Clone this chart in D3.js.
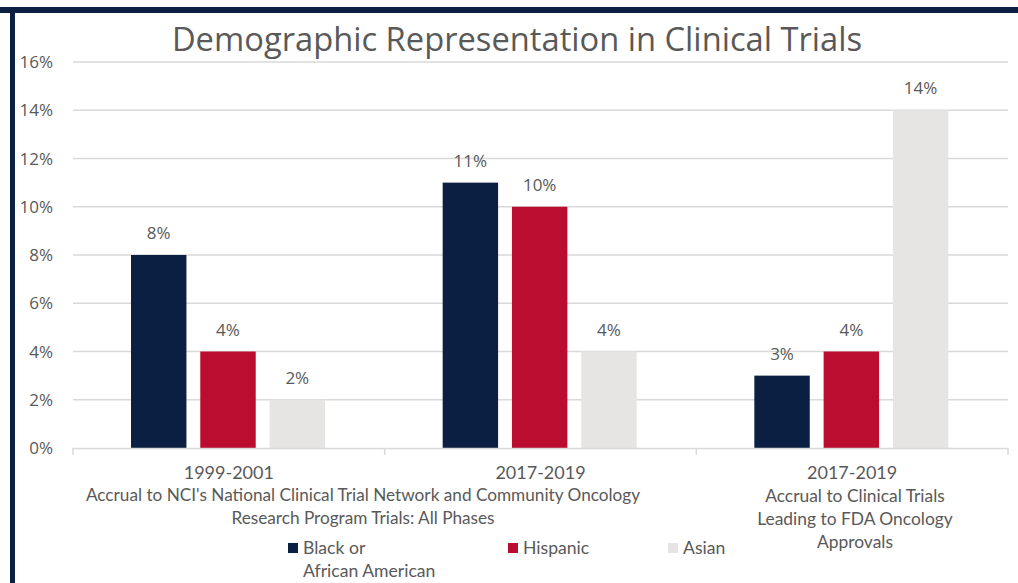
<!DOCTYPE html>
<html>
<head>
<meta charset="utf-8">
<script src="https://cdn.jsdelivr.net/npm/d3@7"></script>
<style>
  body { margin: 0; background: #fff; }
  svg { display: block; }
</style>
</head>
<body>
<div id="graph"></div>
<script>
//Page size.
let w = 1018
let h = 583

//Chart data.
let groups = ["g1", "g2", "g3"]
let years = ["1999-2001", "2017-2019", "2017-2019"]
let series = ["Black or African American", "Hispanic", "Asian"]
let blackVals = [8, 11, 3]
let hispanicVals = [4, 10, 4]
let asianVals = [2, 4, 14]
let yTicks = [0, 2, 4, 6, 8, 10, 12, 14, 16]

//Colors per series.
let colors = ["#0b1f42", "#bb0d2f", "#e6e5e4"]
let navy = "#0b1f42"
let textGrey = "#595959"
let gridGrey = "#d9d9d9"

//Plot area.
let plot = { left: 73, right: 1008, top: 62, bottom: 448 }

const svg = d3.select("#graph")
              .append("svg")
              .attr("width", w)
              .attr("height", h)

//Frame bars on top and left.
svg.append("rect").attr("x", 0).attr("y", 7).attr("width", w).attr("height", 6).attr("fill", navy)
svg.append("rect").attr("x", 10).attr("y", 7).attr("width", 5).attr("height", h - 7).attr("fill", navy)

let x = d3.scaleBand()
          .domain(groups)
          .range([plot.left, plot.right])

let xInner = d3.scaleBand()
               .domain(d3.range(series.length))
               .range([58, 252])
               .paddingInner(0.2)

let y = d3.scaleLinear()
          .domain([0, 16])
          .range([plot.bottom, plot.top])

//Gridlines.
svg.append("g")
   .selectAll("line")
   .data(yTicks.slice(1))
   .enter()
   .append("line")
   .attr("x1", plot.left)
   .attr("x2", plot.right)
   .attr("y1", d => y(d))
   .attr("y2", d => y(d))
   .attr("stroke", gridGrey)
   .attr("stroke-width", 1.5)

//Y axis labels.
svg.append("g")
   .selectAll("text")
   .data(yTicks)
   .enter()
   .append("text")
   .attr("x", 53)
   .attr("y", d => y(d) + 6)
   .attr("text-anchor", "end")
   .attr("font-family", "Open Sans")
   .attr("font-size", 17)
   .attr("fill", textGrey)
   .text(d => d + "%")

//Bars, one group per period.
let rows = groups.map((g, i) => [blackVals[i], hispanicVals[i], asianVals[i]])

let gBars = svg.append("g")
               .selectAll("g")
               .data(rows)
               .enter()
               .append("g")
               .attr("transform", (d, i) => "translate(" + x(groups[i]) + ",0)")

gBars.selectAll("rect")
     .data(d => d)
     .enter()
     .append("rect")
     .attr("x", (d, j) => xInner(j))
     .attr("width", xInner.bandwidth())
     .attr("y", d => y(d))
     .attr("height", d => y(0) - y(d))
     .attr("fill", (d, j) => colors[j])

gBars.selectAll("text")
     .data(d => d)
     .enter()
     .append("text")
     .attr("x", (d, j) => xInner(j) + xInner.bandwidth() / 2)
     .attr("y", d => y(d) - 16)
     .attr("text-anchor", "middle")
     .attr("font-family", "Open Sans")
     .attr("font-size", 17)
     .attr("fill", textGrey)
     .text(d => d + "%")

//Baseline with tick marks at band edges.
svg.append("line")
   .attr("x1", plot.left).attr("x2", plot.right)
   .attr("y1", plot.bottom + 0.5).attr("y2", plot.bottom + 0.5)
   .attr("stroke", gridGrey).attr("stroke-width", 1.5)
let edges = groups.map(g => x(g)).concat([plot.right])
svg.append("g")
   .selectAll("line")
   .data(edges)
   .enter()
   .append("line")
   .attr("x1", d => d).attr("x2", d => d)
   .attr("y1", plot.bottom).attr("y2", plot.bottom + 7)
   .attr("stroke", gridGrey).attr("stroke-width", 1.5)

//Category labels.
let labelFont = "Lato"
svg.append("g")
   .selectAll("text")
   .data(years)
   .enter()
   .append("text")
   .attr("x", (d, i) => x(groups[i]) + x.bandwidth() / 2)
   .attr("y", 479)
   .attr("text-anchor", "middle")
   .attr("font-family", labelFont)
   .attr("font-size", 18)
   .attr("fill", textGrey)
   .text(d => d)

let desc1 = ["Accrual to NCI's National Clinical Trial Network and Community Oncology", "Research Program Trials: All Phases"]
let desc2 = ["Accrual to Clinical Trials", "Leading to FDA Oncology", "Approvals"]

svg.append("g")
   .selectAll("text")
   .data(desc1)
   .enter()
   .append("text")
   .attr("x", 363)
   .attr("y", (d, i) => 501 + i * 23)
   .attr("text-anchor", "middle")
   .attr("font-family", labelFont)
   .attr("font-size", 17.2)
   .attr("fill", textGrey)
   .text(d => d)

svg.append("g")
   .selectAll("text")
   .data(desc2)
   .enter()
   .append("text")
   .attr("x", 855)
   .attr("y", (d, i) => 502 + i * 23)
   .attr("text-anchor", "middle")
   .attr("font-family", labelFont)
   .attr("font-size", 17.4)
   .attr("fill", textGrey)
   .text(d => d)

//Legend.
let legendX = [288, 508, 668]
let legend = svg.append("g")
                .selectAll("g")
                .data(series)
                .enter()
                .append("g")
                .attr("transform", (d, i) => "translate(" + legendX[i] + ",543)")

legend.append("rect")
      .attr("width", 10)
      .attr("height", 10)
      .attr("fill", (d, i) => colors[i])

legend.append("text")
      .attr("x", 15)
      .attr("y", 11)
      .attr("font-family", labelFont)
      .attr("font-size", 17.6)
      .attr("fill", textGrey)
      .text(d => d == "Black or African American" ? "Black or" : d)

legend.filter(d => d == "Black or African American")
      .append("text")
      .attr("x", 15)
      .attr("y", 34)
      .attr("font-family", labelFont)
      .attr("font-size", 17.6)
      .attr("fill", textGrey)
      .text("African American")

//Title.
svg.append("text")
   .attr("x", 517)
   .attr("y", 51)
   .attr("text-anchor", "middle")
   .attr("font-family", "Open Sans")
   .attr("font-size", 32.7)
   .attr("fill", textGrey)
   .text("Demographic Representation in Clinical Trials")
</script>
</body>
</html>
